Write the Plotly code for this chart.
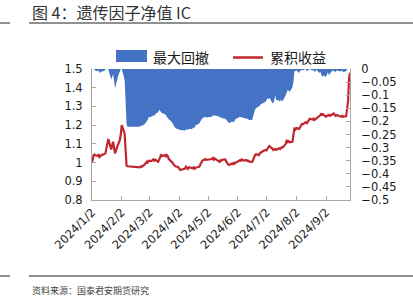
import plotly.graph_objects as go

# ---------------- data ----------------
dates = [
    "2024-01-02", "2024-01-03", "2024-01-04", "2024-01-05", "2024-01-08", "2024-01-09", "2024-01-10", "2024-01-11", "2024-01-12", "2024-01-15",
    "2024-01-16", "2024-01-17", "2024-01-18", "2024-01-19", "2024-01-22", "2024-01-23", "2024-01-24", "2024-01-25", "2024-01-26", "2024-01-29",
    "2024-01-30", "2024-01-31", "2024-02-01", "2024-02-02", "2024-02-05", "2024-02-06", "2024-02-07", "2024-02-08", "2024-02-19", "2024-02-20",
    "2024-02-21", "2024-02-22", "2024-02-23", "2024-02-26", "2024-02-27", "2024-02-28", "2024-02-29", "2024-03-01", "2024-03-04", "2024-03-05",
    "2024-03-06", "2024-03-07", "2024-03-08", "2024-03-11", "2024-03-12", "2024-03-13", "2024-03-14", "2024-03-15", "2024-03-18", "2024-03-19",
    "2024-03-20", "2024-03-21", "2024-03-22", "2024-03-25", "2024-03-26", "2024-03-27", "2024-03-28", "2024-03-29", "2024-04-01", "2024-04-02",
    "2024-04-03", "2024-04-08", "2024-04-09", "2024-04-10", "2024-04-11", "2024-04-12", "2024-04-15", "2024-04-16", "2024-04-17", "2024-04-18",
    "2024-04-19", "2024-04-22", "2024-04-23", "2024-04-24", "2024-04-25", "2024-04-26", "2024-04-29", "2024-04-30", "2024-05-06", "2024-05-07",
    "2024-05-08", "2024-05-09", "2024-05-10", "2024-05-13", "2024-05-14", "2024-05-15", "2024-05-16", "2024-05-17", "2024-05-20", "2024-05-21",
    "2024-05-22", "2024-05-23", "2024-05-24", "2024-05-27", "2024-05-28", "2024-05-29", "2024-05-30", "2024-05-31", "2024-06-03", "2024-06-04",
    "2024-06-05", "2024-06-06", "2024-06-07", "2024-06-11", "2024-06-12", "2024-06-13", "2024-06-14", "2024-06-17", "2024-06-18", "2024-06-19",
    "2024-06-20", "2024-06-21", "2024-06-24", "2024-06-25", "2024-06-26", "2024-06-27", "2024-06-28", "2024-07-01", "2024-07-02", "2024-07-03",
    "2024-07-04", "2024-07-05", "2024-07-08", "2024-07-09", "2024-07-10", "2024-07-11", "2024-07-12", "2024-07-15", "2024-07-16", "2024-07-17",
    "2024-07-18", "2024-07-19", "2024-07-22", "2024-07-23", "2024-07-24", "2024-07-25", "2024-07-26", "2024-07-29", "2024-07-30", "2024-07-31",
    "2024-08-01", "2024-08-02", "2024-08-05", "2024-08-06", "2024-08-07", "2024-08-08", "2024-08-09", "2024-08-12", "2024-08-13", "2024-08-14",
    "2024-08-15", "2024-08-16", "2024-08-19", "2024-08-20", "2024-08-21", "2024-08-22", "2024-08-23", "2024-08-26", "2024-08-27", "2024-08-28",
    "2024-08-29", "2024-08-30", "2024-09-02", "2024-09-03", "2024-09-04", "2024-09-05", "2024-09-06", "2024-09-09", "2024-09-10", "2024-09-11",
    "2024-09-12", "2024-09-13", "2024-09-18", "2024-09-19", "2024-09-20", "2024-09-23", "2024-09-24", "2024-09-25", "2024-09-26", "2024-09-27",
]

cum_return = [  # 累积收益 (left axis)
    1.000, 1.020, 1.045, 1.040, 1.035, 1.045, 1.030, 1.035, 1.040, 1.045,
    1.050, 1.076, 1.095, 1.126, 1.070, 1.090, 1.111, 1.080, 1.049, 1.094,
    1.105, 1.120, 1.150, 1.200, 1.156, 1.060, 0.985, 0.980, 0.978, 0.976,
    0.974, 0.980, 0.978, 0.990, 0.995, 1.004, 1.000, 1.010, 1.008, 1.012,
    1.017, 1.010, 1.015, 1.004, 1.020, 1.030, 1.040, 1.035, 1.040, 1.030,
    1.040, 1.035, 1.020, 1.004, 1.000, 0.990, 0.985, 0.980, 0.975, 0.965,
    0.960, 0.968, 0.978, 0.972, 0.966, 0.975, 0.970, 0.969, 0.975, 0.968,
    0.972, 0.976, 0.978, 0.990, 1.000, 1.010, 1.019, 1.015, 1.019, 1.025,
    1.015, 1.022, 1.018, 1.010, 1.004, 1.013, 1.010, 1.015, 1.017, 1.005,
    0.995, 0.990, 0.987, 0.995, 0.992, 0.999, 0.995, 1.000, 1.008, 1.012,
    1.010, 1.017, 1.012, 1.013, 1.008, 1.010, 1.005, 1.004, 1.015, 1.030,
    1.040, 1.045, 1.040, 1.050, 1.055, 1.058, 1.060, 1.067, 1.065, 1.075,
    1.080, 1.088, 1.075, 1.067, 1.070, 1.072, 1.068, 1.076, 1.072, 1.078,
    1.082, 1.081, 1.100, 1.120, 1.110, 1.115, 1.108, 1.111, 1.150, 1.180,
    1.176, 1.185, 1.180, 1.190, 1.195, 1.207, 1.205, 1.216, 1.210, 1.220,
    1.228, 1.234, 1.230, 1.235, 1.228, 1.232, 1.236, 1.245, 1.252, 1.263,
    1.255, 1.258, 1.245, 1.250, 1.252, 1.255, 1.250, 1.260, 1.262, 1.255,
    1.250, 1.254, 1.245, 1.250, 1.245, 1.248, 1.300, 1.330, 1.450, 1.480,
]

max_drawdown = [  # 最大回撤 (right axis)
    0.000, 0.000, 0.000, -0.005, -0.010, -0.005, -0.015, -0.012, -0.010, -0.008,
    0.000, 0.000, 0.000, 0.000, -0.040, -0.030, -0.020, -0.045, -0.073, -0.030,
    -0.020, -0.010, 0.000, 0.000, -0.040, -0.120, -0.210, -0.220, -0.220, -0.222,
    -0.220, -0.215, -0.218, -0.210, -0.205, -0.201, -0.195, -0.185, -0.182, -0.180,
    -0.176, -0.180, -0.172, -0.165, -0.156, -0.160, -0.165, -0.169, -0.172, -0.178,
    -0.183, -0.188, -0.192, -0.201, -0.208, -0.215, -0.222, -0.226, -0.230, -0.232,
    -0.233, -0.235, -0.233, -0.230, -0.234, -0.228, -0.230, -0.226, -0.222, -0.225,
    -0.215, -0.210, -0.207, -0.200, -0.195, -0.188, -0.182, -0.185, -0.182, -0.176,
    -0.180, -0.176, -0.178, -0.180, -0.185, -0.183, -0.186, -0.188, -0.190, -0.195,
    -0.200, -0.205, -0.207, -0.200, -0.203, -0.201, -0.195, -0.190, -0.185, -0.182,
    -0.185, -0.182, -0.186, -0.188, -0.190, -0.192, -0.195, -0.195, -0.180, -0.165,
    -0.155, -0.150, -0.144, -0.140, -0.135, -0.132, -0.131, -0.125, -0.120, -0.112,
    -0.115, -0.110, -0.130, -0.131, -0.120, -0.100, -0.118, -0.120, -0.125, -0.115,
    -0.124, -0.120, -0.100, -0.085, -0.080, -0.082, -0.088, -0.070, -0.050, -0.010,
    -0.008, -0.005, -0.015, -0.005, -0.008, -0.002, -0.005, 0.000, -0.010, -0.004,
    -0.002, 0.000, -0.006, -0.003, -0.012, -0.008, -0.003, -0.015, -0.010, -0.020,
    -0.030, -0.025, -0.030, -0.020, -0.012, -0.025, -0.018, -0.005, -0.010, -0.008,
    -0.012, -0.006, -0.010, -0.005, -0.012, -0.008, 0.000, 0.000, 0.000, 0.000,
]

tick_dates = ["2024-01-02", "2024-02-02", "2024-03-02", "2024-04-02", "2024-05-02",
              "2024-06-02", "2024-07-02", "2024-08-02", "2024-09-02"]
tick_labels = ["2024/1/2", "2024/2/2", "2024/3/2", "2024/4/2", "2024/5/2",
               "2024/6/2", "2024/7/2", "2024/8/2", "2024/9/2"]

assert len(dates) == len(cum_return) == len(max_drawdown)

# ---------------- layout helpers (pixel -> paper) ----------------
W, H = 413, 300
def px(x):
    return x / W
def py(y):
    return 1 - y / H

BLUE = "#4472C4"
RED = "#C0262D"
AXIS = "#a6a6a6"
TICKFONT = dict(family="DejaVu Sans", size=11.5, color="#1a1a1a")
CJK = "Noto Sans CJK SC"

fig = go.Figure()
fig.add_trace(go.Scatter(
    x=dates, y=max_drawdown, yaxis="y", mode="lines",
    line=dict(width=0, color=BLUE), fill="tozeroy", fillcolor=BLUE,
    name="最大回撤", showlegend=False, hoverinfo="skip",
))
fig.add_trace(go.Scatter(
    x=dates, y=cum_return, yaxis="y2", mode="lines",
    line=dict(width=2.2, color=RED), name="累积收益", showlegend=False,
))

fig.update_layout(
    width=W, height=H,
    margin=dict(l=0, r=0, t=0, b=0),
    paper_bgcolor="white", plot_bgcolor="white",
    xaxis=dict(
        domain=[px(92), px(350)], type="date",
        range=[dates[0], dates[-1]],
        tickvals=tick_dates, ticktext=tick_labels, tickangle=-45,
        ticks="inside", ticklen=4, tickcolor=AXIS,
        showline=True, linecolor=AXIS, linewidth=1,
        showgrid=False, zeroline=False, tickfont=TICKFONT, automargin=False,
    ),
    yaxis=dict(
        domain=[py(200), py(69)], side="right", anchor="x",
        range=[-0.5, 0], dtick=0.05, tick0=0,
        ticks="inside", ticklen=4, tickcolor=AXIS,
        showline=True, linecolor=AXIS, linewidth=1,
        showgrid=False, zeroline=False, tickfont=TICKFONT,
        ticklabelstandoff=8, automargin=False,
    ),
    yaxis2=dict(
        overlaying="y", side="left", anchor="x",
        range=[0.8, 1.5], dtick=0.1, tick0=0.8,
        ticks="inside", ticklen=4, tickcolor=AXIS,
        showline=True, linecolor=AXIS, linewidth=1,
        showgrid=False, zeroline=False, tickfont=TICKFONT,
        ticklabelstandoff=6, automargin=False,
    ),
)

shapes = [
    # title rules
    dict(type="line", xref="paper", yref="paper", x0=px(0), x1=px(10), y0=py(23), y1=py(23),
         line=dict(color="#222", width=1)),
    dict(type="line", xref="paper", yref="paper", x0=px(29), x1=px(413), y0=py(23), y1=py(23),
         line=dict(color="#222", width=1)),
    # footer rules
    dict(type="line", xref="paper", yref="paper", x0=px(0), x1=px(10), y0=py(276), y1=py(276),
         line=dict(color="#222", width=1)),
    dict(type="line", xref="paper", yref="paper", x0=px(29), x1=px(413), y0=py(276), y1=py(276),
         line=dict(color="#222", width=1)),
    # legend swatches
    dict(type="rect", xref="paper", yref="paper", x0=px(116), x1=px(147), y0=py(62), y1=py(50),
         fillcolor=BLUE, line=dict(width=0)),
    dict(type="line", xref="paper", yref="paper", x0=px(233), x1=px(263), y0=py(57.5), y1=py(57.5),
         line=dict(color=RED, width=2.5)),
]

annotations = [
    dict(text="图 4：遗传因子净值 IC", xref="paper", yref="paper", x=px(30), y=py(12.5),
         xanchor="left", yanchor="middle", showarrow=False,
         font=dict(family=CJK, size=16, color="#333")),
    dict(text="资料来源：国泰君安期货研究", xref="paper", yref="paper", x=px(30), y=py(290),
         xanchor="left", yanchor="middle", showarrow=False,
         font=dict(family=CJK, size=9, color="#444")),
    dict(text="最大回撤", xref="paper", yref="paper", x=px(151), y=py(56.5),
         xanchor="left", yanchor="middle", showarrow=False,
         font=dict(family=CJK, size=14, color="#1a1a1a")),
    dict(text="累积收益", xref="paper", yref="paper", x=px(268), y=py(56.5),
         xanchor="left", yanchor="middle", showarrow=False,
         font=dict(family=CJK, size=14, color="#1a1a1a")),
]

fig.update_layout(shapes=shapes, annotations=annotations)
fig.write_html("out.html")
